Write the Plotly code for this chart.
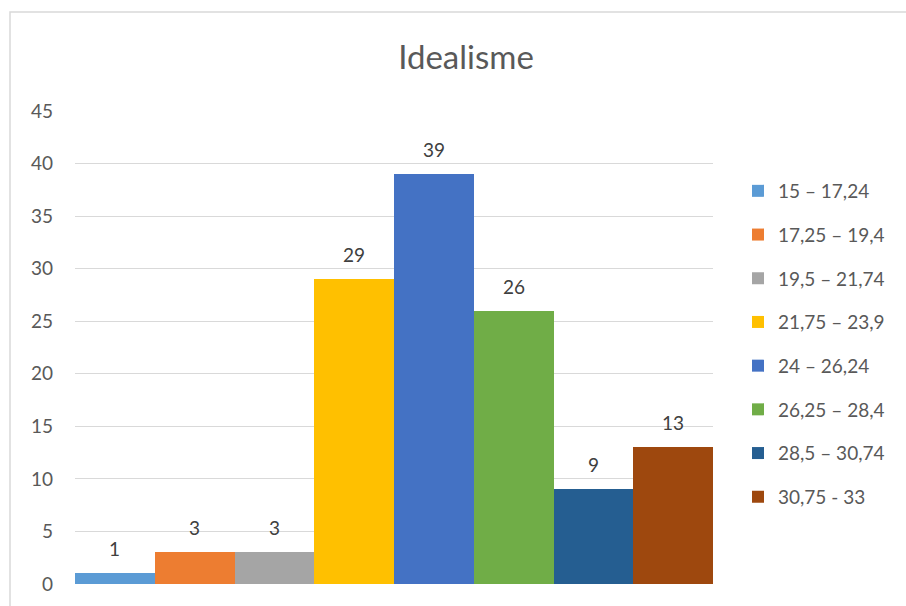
import plotly.graph_objects as go

# Score ranges (legend entries) and frequency counts
ranges = ["15 – 17,24", "17,25 – 19,4", "19,5 – 21,74", "21,75 – 23,9",
          "24 – 26,24", "26,25 – 28,4", "28,5 – 30,74", "30,75 - 33"]
counts = [1, 3, 3, 29, 39, 26, 9, 13]
colors = ["#5B9BD5", "#ED7D31", "#A5A5A5", "#FFC000",
          "#4472C4", "#70AD47", "#255E91", "#9E480E"]
y_ticks = [0, 5, 10, 15, 20, 25, 30, 35, 40, 45]

FONT = "Lato"
W, H = 906, 606
ML, MR, MT, MB = 75, 193, 111, 22

fig = go.Figure()
for i, (name, val, col) in enumerate(zip(ranges, counts, colors)):
    fig.add_trace(go.Bar(
        x=[i], y=[val], name=name, width=1,
        marker=dict(color=col, line=dict(width=0)),
        legendgroup=name, showlegend=True,
    ))
    fig.add_annotation(
        x=i, y=val, text=str(val), showarrow=False,
        yanchor="bottom", yshift=11,
        font=dict(family=FONT, size=19, color="#404040"),
    )

pw = W - ML - MR
ph = H - MT - MB
# light frame around the whole chart area
fig.add_shape(
    type="rect", xref="paper", yref="paper",
    x0=(10 - ML) / pw, x1=(W + 10 - ML) / pw,
    y0=-(30) / ph, y1=(H - MB - 12) / ph,
    line=dict(color="#D9D9D9", width=1.5), fillcolor="rgba(0,0,0,0)",
    layer="below",
)

fig.update_layout(
    width=W, height=H,
    margin=dict(l=ML, r=MR, t=MT, b=MB),
    paper_bgcolor="white", plot_bgcolor="white",
    barmode="overlay", bargap=0,
    title=dict(text="Idealisme", x=466 / W, xanchor="center",
               y=1 - 57 / H, yanchor="middle",
               font=dict(family=FONT, size=33, color="#595959")),
    xaxis=dict(range=[-0.5, 7.5], showticklabels=False, showgrid=False,
               zeroline=False, showline=False, ticks=""),
    yaxis=dict(range=[0, 45], tickvals=y_ticks, showgrid=True,
               gridcolor="#D9D9D9", gridwidth=1, zeroline=False,
               showline=False, ticks="", ticklabelstandoff=21,
               tickfont=dict(family=FONT, size=19, color="#595959")),
    legend=dict(x=1.0 + (738 - ML - pw) / pw, xanchor="left",
                y=1 - (172 - MT) / ph, yanchor="top",
                font=dict(family=FONT, size=19, color="#595959"),
                tracegroupgap=16, bgcolor="rgba(0,0,0,0)"),
    font=dict(family=FONT),
)

fig.write_html("out.html")
